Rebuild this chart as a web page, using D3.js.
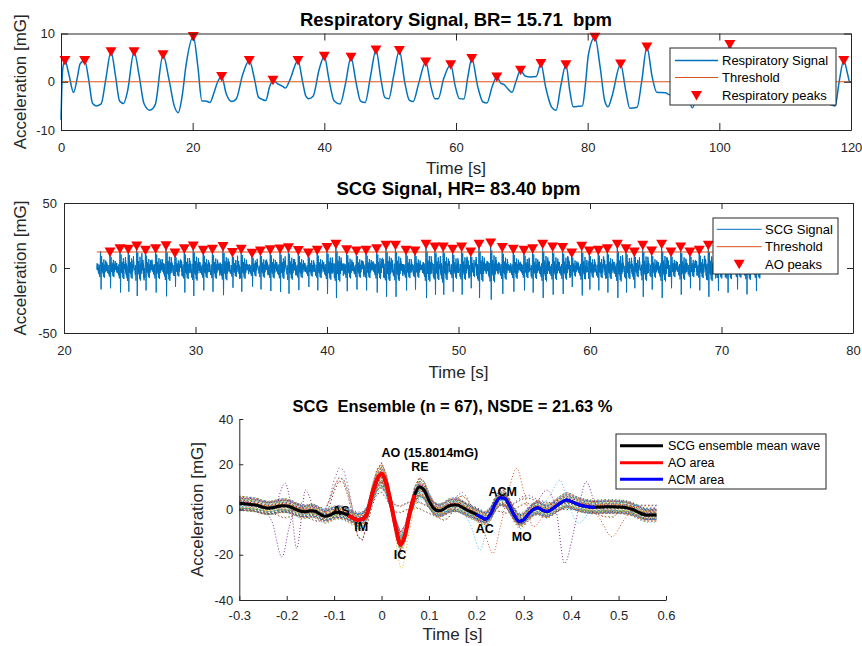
<!DOCTYPE html>
<html><head><meta charset="utf-8">
<script src="https://cdn.jsdelivr.net/npm/d3@7"></script>
<style>
body{margin:0;background:#fff;}
svg{display:block;}
</style></head><body>
<svg id="c" width="862" height="646"></svg>
<script>
// ---------------- DATA ----------------
// Respiratory signal knots (time s, acceleration mG)
const respT = [0,0.25,0.6,1.2,1.9,2.5,2.9,3.6,4.2,4.8,5.4,6.1,6.8,7.6,8.3,8.9,9.5,10.1,11.1,11.9,12.6,13.5,14.3,15.5,16.4,17.2,17.8,18.4,19.0,20.1,20.8,21.4,22.0,22.6,23.3,23.8,24.4,25.1,25.9,26.6,27.6,28.6,29.4,30.0,30.5,31.1,31.7,32.2,33.0,33.6,34.1,34.8,36.0,36.7,37.2,37.6,38.3,39.2,40.0,40.7,41.5,42.4,43.2,44.05,44.8,45.5,46.2,47.0,47.85,48.6,49.2,49.8,50.5,51.4,52.2,52.9,53.5,54.3,55.4,56.2,56.8,57.3,58.1,59.2,59.9,60.5,61.2,61.8,62.4,63.3,64.1,64.7,65.5,66.2,66.8,67.3,67.9,68.5,69.1,69.8,70.5,71.3,72.2,72.9,73.6,74.5,75.2,75.9,76.7,77.3,77.8,78.6,79.2,79.7,80.1,81.1,81.9,82.6,83.1,83.7,85.0,85.8,86.4,87.5,88.2,89.0,89.8,90.5,91.8,92.5,93.5,94.3,95.2,95.9,96.6,97.4,98.0,98.8,99.5,100.2,100.9,101.6,102.4,103.2,104.0,105.0,105.8,106.6,107.4,108.4,109.3,110.0,110.8,111.6,112.5,113.4,114.1,114.9,115.7,116.5,117.6,118.2,118.9,119.5,119.8,120];
const respV = [-7.9,2.5,4.4,1.5,-2.2,1.0,3.7,4.4,0.5,-4.5,-5.0,-4.6,0.5,6.2,1.0,-4.0,-4.5,-2.0,6.2,1.0,-4.5,-5.9,-4.8,5.6,0.5,-5.0,-6.4,-3.0,3.5,9.4,3.0,-4.0,-4.0,-4.3,-2.0,0.0,1.1,-2.5,-4.1,-3.6,1.5,4.4,0.5,-3.2,-3.6,-3.9,-1.0,0.3,-0.5,-0.9,-1.3,0.5,4.4,0.0,-3.0,-3.5,-3.0,2.5,5.3,0.5,-4.0,-4.6,-0.5,5.1,0.0,-4.0,-4.3,1.0,6.6,0.5,-3.3,-3.5,1.0,6.5,0.0,-3.8,-4.1,-0.5,4.1,-1.0,-3.5,-3.5,0.5,3.5,-1.0,-3.5,-3.6,1.0,4.8,-1.0,-4.2,-4.4,-1.0,1.0,-0.3,-0.6,-1.5,-2.2,0.0,2.4,1.2,1.0,1.1,3.8,-1.0,-5.2,-5.9,-1.0,3.5,-2.0,-5.2,-5.1,-5.0,0.0,5.5,9.2,3.0,-4.0,-5.2,-3.0,3.7,-2.0,-5.5,-5.3,0.0,7.2,1.0,-2.2,-2.3,-2.7,1.0,3.0,-2.5,-5.4,-3.0,0.5,3.0,-2.0,-2.6,-2.6,2.0,7.7,1.0,-4.0,-4.2,1.0,5.0,-1.0,-4.5,-4.0,2.0,4.5,-1.0,-4.2,-3.8,1.5,4.0,-1.0,-4.0,-4.5,-5.0,0.0,4.4,1.5,0.0,0.0];
const respThreshold = 0;
const respPeakT = [0.6,3.6,7.6,11.1,15.5,20.1,24.4,28.6,32.2,36.0,40.0,44.05,47.85,51.4,55.4,59.2,62.4,66.2,69.8,72.9,76.7,81.1,85.0,89.0,94.3,98.0,101.6,105.8,110.0,114.1,118.9];
const respPeakV = [4.4,4.4,6.2,6.2,5.6,9.4,1.1,4.4,0.3,4.4,5.3,5.1,6.6,6.5,4.1,3.5,4.8,1.0,2.4,3.8,3.5,9.2,3.7,7.2,3.0,3.0,7.7,5.0,4.5,4.0,4.4];

// SCG: AO peak times (s) and AO peak values (mG)
const aoT = [23.50,24.26,24.89,25.53,26.20,26.97,27.76,28.44,29.15,29.83,30.59,31.29,32.09,32.81,33.48,34.30,34.94,35.69,36.43,37.07,37.82,38.58,39.26,40.00,40.68,41.50,42.24,42.97,43.78,44.49,45.21,46.01,46.69,47.53,48.21,48.84,49.56,50.24,50.93,51.56,52.45,53.33,54.17,54.98,55.64,56.40,57.16,57.92,58.61,59.37,59.95,60.63,61.32,62.08,62.74,63.37,64.01,64.69,65.45,66.16,66.90,67.60,68.31,69.00,69.73,70.46,71.18,71.90,72.62];
const aoV = [12.3,14.9,14.4,17.0,13.6,14.9,17.2,11.5,14.9,17.0,13.6,14.4,16.5,12.0,14.4,11.3,13.0,14.0,14.6,15.6,13.4,11.5,13.6,15.7,18.2,14.1,13.1,13.6,14.9,17.5,17.5,13.6,13.1,18.2,16.2,16.2,14.4,16.2,12.3,18.2,19.2,15.7,14.4,13.6,14.9,18.2,16.2,15.7,11.5,16.7,13.1,13.6,14.9,18.2,14.9,12.3,17.5,13.1,18.2,12.3,16.2,12.3,13.6,17.5,14.0,15.0,13.0,16.0,14.0];
const scgLeadBeatT = [22.78];   // beat before first detected AO peak
const scgLeadBeatV = [13.0];
const scgStart = 22.5, scgEnd = 73.0;
const scgThreshold = 12.3;

// SCG ensemble mean wave (time relative to AO, s ; mG)
const ensT = [-0.30,-0.29,-0.28,-0.27,-0.26,-0.25,-0.24,-0.23,-0.22,-0.21,-0.20,-0.19,-0.18,-0.17,-0.16,-0.15,-0.14,-0.13,-0.12,-0.11,-0.10,-0.09,-0.08,-0.07,-0.06,-0.05,-0.04,-0.03,-0.02,-0.01,0.00,0.01,0.02,0.03,0.04,0.05,0.06,0.07,0.08,0.09,0.10,0.11,0.12,0.13,0.14,0.15,0.16,0.17,0.18,0.19,0.20,0.21,0.22,0.23,0.24,0.25,0.26,0.27,0.28,0.29,0.30,0.31,0.32,0.33,0.34,0.35,0.36,0.37,0.38,0.39,0.40,0.41,0.42,0.43,0.44,0.45,0.46,0.47,0.48,0.49,0.50,0.51,0.52,0.53,0.54,0.55,0.56,0.57,0.58];
const ensMean = [2.7,2.5,2.3,2.1,1.7,1.0,0.6,0.8,1.3,1.7,1.6,1.0,0.0,-0.8,-1.0,-0.6,-0.8,-2.0,-3.0,-2.6,-1.5,-1.2,-1.6,-2.6,-3.8,-4.6,-4.2,-1.5,6.5,13.0,15.8,11.5,2.5,-8.0,-15.5,-11.0,-1.0,6.5,10.0,8.5,4.0,0.5,-0.6,0.0,1.4,2.0,2.0,1.0,-0.2,-1.2,-2.2,-3.4,-4.3,-2.0,2.5,5.2,5.0,1.5,-2.5,-5.2,-4.5,-2.0,0.0,0.8,-0.4,-0.9,0.2,1.8,3.2,4.2,3.6,2.6,1.9,1.4,1.1,1.0,1.1,1.2,1.2,1.2,1.1,1.0,0.6,0.0,-1.0,-2.0,-2.5,-2.4,-2.4];
// typical raw (un-averaged) beat in the SCG recording, same time grid as ensT
const rawBeat = [3.0,1.0,4.5,2.0,-1.5,2.5,-2.0,1.0,4.0,0.5,3.5,-1.5,1.0,-4.0,0.5,-3.0,1.0,-5.0,-2.0,-6.0,1.0,3.0,-2.0,-5.0,-7.0,-8.5,-6.0,-1.5,7.0,13.5,15.8,10.5,0.0,-12.0,-20.0,-13.0,0.0,8.0,11.0,7.0,1.0,-4.0,2.0,-3.0,4.0,1.0,5.0,-1.0,2.0,-5.0,-1.0,-7.0,-8.0,-2.0,4.0,8.0,6.0,1.0,-5.0,-9.0,-6.0,-1.0,3.0,-1.0,2.0,-4.0,1.0,4.0,2.0,7.0,3.0,5.0,-1.0,3.0,-2.0,2.0,-1.5,3.0,-1.0,2.5,-1.0,2.0,-2.0,1.0,-3.0,-1.0,-4.0,-1.0,-2.4];
const aoArea = [-0.07, 0.07];
const acmArea = [0.20, 0.45];
const aoAmplitude = 15.8014;
// per-beat alignment shift (s) and baseline offset (mG) of the 67 ensemble beats
const ensShift = [0,0,0,0,0.085,0,0,0,0,0,0,0,0,0,0,0.085,0,0,0,0,0,0,0,0,0,0,0,0.085,0,0,0,0,0,0,0,0,0,0,0.085,0,0,0,0,0,0,0,0,0,0,0,0.085,0,0,0,0,0,0,0,0,0,0,0.085,0,0,0,0,0];
const ensOffset = [1.5,-2.1,0.4,2.8,-0.9,-3.0,1.1,0.2,-1.6,2.2,-0.5,3.1,-2.6,0.8,-1.2,1.9,-0.3,2.5,-2.9,0.6,1.4,-1.8,0.1,2.0,-2.3,-0.7,1.7,-1.1,2.9,-0.2,0.9,-2.5,1.3,-1.4,2.4,-0.6,0.3,-2.0,1.8,-0.8,2.6,-1.7,0.5,-2.7,1.0,-0.4,2.1,-1.3,0.7,-2.2,1.6,-0.1,2.3,-1.9,0.0,1.2,-2.4,2.7,-1.0,0.4,-1.5,1.9,-0.6,2.2,-2.8,0.9,-0.3];
// outlying individual beats (partial traces)
const outA_T = [-0.26,-0.245,-0.231,-0.21,-0.195,-0.18,-0.165]; const outA_V = [1,-1,-5.4,-21,-8,2,3];
const outB_T = [-0.22,-0.203,-0.19,-0.179,-0.168,-0.161,-0.145]; const outB_V = [3,11.6,0,-17.2,-2,8.6,1];
const outC_T = [0.20,0.22,0.235,0.25,0.27,0.285,0.30,0.32,0.34]; const outC_V = [-3,-12,-19.4,-8,10,18.2,8,-7.6,-3];
const outD_T = [0.31,0.33,0.348,0.368,0.386,0.405,0.418,0.432,0.45,0.47]; const outD_V = [0,4,8.6,0,-23.8,-10,3,12.3,3,0];
const outE_T = [0.33,0.355,0.376,0.395,0.415,0.44]; const outE_V = [0,6,13,2,-6,0];
const outF_T = [0.44,0.46,0.486,0.51,0.53]; const outF_V = [1,-4,-12,-5,1];
const outG_T = [0.17,0.19,0.208,0.225,0.245]; const outG_V = [0,-8,-17.9,-6,3];
const outH_T = [-0.02,0.0,0.02,0.042,0.06,0.075]; const outH_V = [8,19,2,-26,-8,4];

// tick values
const p1XTicks = [0,20,40,60,80,100,120], p1YTicks = [-10,0,10];
const p2XTicks = [20,30,40,50,60,70,80], p2YTicks = [-50,0,50];
const p3XTicks = [-0.3,-0.2,-0.1,0,0.1,0.2,0.3,0.4,0.5,0.6], p3YTicks = [-40,-20,0,20,40];

// ---------------- DRAW ----------------
const FONT = '"Liberation Sans", Arial, Helvetica, sans-serif';
const AX = '#262626';
const BLUE = '#0072BD', ORANGE = '#D95319', RED = '#FF0000';
const CYCLE = ['#0072BD','#D95319','#EDB120','#7E2F8E','#77AC30','#4DBEEE','#A2142F'];
const svg = d3.select('#c').attr('font-family', FONT);

function axes(x, y, xt, yt, box, tl, padX, padY) {
  const g = svg.append('g');
  const [xa, xb] = x.range(), [ya, yb] = y.range();
  const fmt = d => String(d);
  const parts = [];
  parts.push(g.append('g').attr('transform', `translate(0,${ya})`)
    .call(d3.axisBottom(x).tickValues(xt).tickFormat(fmt).tickSizeInner(-tl).tickSizeOuter(0).tickPadding(padX)));
  parts.push(g.append('g').attr('transform', `translate(${xa},0)`)
    .call(d3.axisLeft(y).tickValues(yt).tickFormat(fmt).tickSizeInner(-tl).tickSizeOuter(0).tickPadding(padY)));
  if (box) {
    parts.push(g.append('g').attr('transform', `translate(0,${yb})`)
      .call(d3.axisTop(x).tickValues(xt).tickFormat('').tickSizeInner(-tl).tickSizeOuter(0)));
    parts.push(g.append('g').attr('transform', `translate(${xb},0)`)
      .call(d3.axisRight(y).tickValues(yt).tickFormat('').tickSizeInner(-tl).tickSizeOuter(0)));
  }
  parts.forEach(p => p.attr('font-family', FONT).attr('font-size', 13));
  g.selectAll('.domain').attr('stroke', AX).attr('stroke-width', 1);
  g.selectAll('.tick line').attr('stroke', AX).attr('stroke-width', 1);
  g.selectAll('.tick text').attr('fill', AX);
  return g;
}
function title(txt, cx, by, fs) {
  svg.append('text').attr('x', cx).attr('y', by).attr('text-anchor', 'middle')
    .attr('font-size', fs).attr('font-weight', 'bold').attr('fill', '#000')
    .style('white-space', 'pre').attr('xml:space', 'preserve').text(txt);
}
function xlabel(txt, cx, by) {
  svg.append('text').attr('x', cx).attr('y', by).attr('text-anchor', 'middle')
    .attr('font-size', 17).attr('fill', AX).text(txt);
}
function ylabel(txt, bx, cy) {
  svg.append('text').attr('transform', `translate(${bx},${cy}) rotate(-90)`).attr('text-anchor', 'middle')
    .attr('font-size', 17).attr('fill', AX).text(txt);
}
const triPath = 'M-5.5,-4.5L5.5,-4.5L0,5Z';
function legend(rx, ry, rw, rh, lx0, lx1, tx, rows, fs, items) {
  const g = svg.append('g');
  g.append('rect').attr('x', rx).attr('y', ry).attr('width', rw).attr('height', rh)
    .attr('fill', '#fff').attr('stroke', AX).attr('stroke-width', 1);
  items.forEach((it, i) => {
    const cy = rows[i];
    if (it.type === 'line') {
      g.append('line').attr('x1', lx0).attr('x2', lx1).attr('y1', cy).attr('y2', cy)
        .attr('stroke', it.color).attr('stroke-width', it.w);
    } else {
      g.append('path').attr('d', triPath).attr('transform', `translate(${(lx0 + lx1) / 2},${cy})`).attr('fill', RED);
    }
    g.append('text').attr('x', tx).attr('y', cy).attr('dy', '0.35em').attr('font-size', fs)
      .attr('fill', '#000').text(it.label);
  });
}

// ---- Panel 1: respiratory ----
{
  const x = d3.scaleLinear().domain([0, 120]).range([61, 851]);
  const y = d3.scaleLinear().domain([-10, 10]).range([130, 33.5]);
  const pts = respT.map((t, i) => [t, respV[i]]);
  svg.append('path').datum(pts).attr('fill', 'none').attr('stroke', BLUE).attr('stroke-width', 1.5)
    .attr('d', d3.line().x(d => x(d[0])).y(d => y(d[1])).curve(d3.curveMonotoneX));
  svg.append('line').attr('x1', x(0)).attr('x2', x(120)).attr('y1', y(respThreshold)).attr('y2', y(respThreshold))
    .attr('stroke', ORANGE).attr('stroke-width', 1);
  svg.append('g').selectAll('path').data(respPeakT).join('path').attr('d', triPath)
    .attr('transform', (t, i) => `translate(${x(t)},${y(respPeakV[i])})`).attr('fill', RED);
  axes(x, y, p1XTicks, p1YTicks, true, 7, 12.5, 6);
  title('Respiratory Signal, BR= 15.71  bpm', 456, 26, 18.5);
  xlabel('Time [s]', 456, 174);
  ylabel('Acceleration [mG]', 25.5, 81.75);
  legend(670, 48, 166, 57, 675, 718, 722, [60.5, 77.5, 95.5], 13, [
    {type: 'line', color: BLUE, w: 1.5, label: 'Respiratory Signal'},
    {type: 'line', color: ORANGE, w: 1, label: 'Threshold'},
    {type: 'marker', label: 'Respiratory peaks'}]);
}

// ---- helpers: shapes on the ensT grid ----
function shapeAt(shape, tau) {
  if (tau < ensT[0] || tau > ensT[ensT.length - 1]) return 0;
  let i = d3.bisectRight(ensT, tau) - 1;
  if (i >= ensT.length - 1) return shape[ensT.length - 1];
  const f = (tau - ensT[i]) / (ensT[i + 1] - ensT[i]);
  return shape[i] + f * (shape[i + 1] - shape[i]);
}
const beatT = scgLeadBeatT.concat(aoT), beatV = scgLeadBeatV.concat(aoV);
function scgAt(t) {
  let s = 0;
  for (let b = 0; b < beatT.length; b++) {
    const tau = t - beatT[b];
    if (tau >= -0.3 && tau <= 0.58) s += beatV[b] / rawBeat[30] * shapeAt(rawBeat, tau);
  }
  return s;
}

// ---- Panel 2: SCG ----
{
  const x = d3.scaleLinear().domain([20, 80]).range([64, 853]);
  const y = d3.scaleLinear().domain([-50, 50]).range([333, 203]);
  const grid = d3.range(scgStart, scgEnd + 1e-9, 0.01);
  const pts = grid.map(t => [t, scgAt(t)]);
  svg.append('path').datum(pts).attr('fill', 'none').attr('stroke', BLUE).attr('stroke-width', 1)
    .attr('d', d3.line().x(d => x(d[0])).y(d => y(d[1])));
  svg.append('line').attr('x1', x(scgStart)).attr('x2', x(scgEnd)).attr('y1', y(scgThreshold)).attr('y2', y(scgThreshold))
    .attr('stroke', ORANGE).attr('stroke-width', 1);
  svg.append('g').selectAll('path').data(aoT).join('path').attr('d', triPath)
    .attr('transform', (t, i) => `translate(${x(t)},${y(aoV[i])})`).attr('fill', RED);
  axes(x, y, p2XTicks, p2YTicks, true, 6, 12.8, 7);
  title('SCG Signal, HR= 83.40 bpm', 458.5, 195, 18.5);
  xlabel('Time [s]', 458.5, 378);
  ylabel('Acceleration [mG]', 25.5, 268);
  legend(713, 218, 125, 56, 716.7, 761.7, 765, [229.3, 246.7, 264.3], 13, [
    {type: 'line', color: BLUE, w: 1, label: 'SCG Signal'},
    {type: 'line', color: ORANGE, w: 1, label: 'Threshold'},
    {type: 'marker', label: 'AO peaks'}]);
}

// ---- Panel 3: ensemble ----
{
  const x = d3.scaleLinear().domain([-0.3, 0.6]).range([239.3, 666]);
  const y = d3.scaleLinear().domain([-40, 40]).range([600, 419]);
  const line = d3.line().x(d => x(d[0])).y(d => y(d[1]));
  // each ensemble beat: mean wave scaled by that beat's AO peak, re-aligned and offset
  const traces = ensOffset.map((off, k) => {
    const sc = aoV[k + 1] / ensMean[30];
    return ensT.map(tau => [tau, sc * shapeAt(ensMean, tau + ensShift[k]) + off]);
  });
  svg.append('g').selectAll('path').data(traces).join('path')
    .attr('d', line).attr('fill', 'none')
    .attr('stroke', (d, k) => CYCLE[k % 7]).attr('stroke-width', 1)
    .attr('stroke-dasharray', '1,2.6').attr('stroke-dashoffset', (d, k) => (k % 4) * 0.9);
  const outs = [[outA_T, outA_V, CYCLE[3]], [outB_T, outB_V, CYCLE[3]], [outC_T, outC_V, CYCLE[1]],
                [outD_T, outD_V, CYCLE[3]], [outE_T, outE_V, CYCLE[5]], [outF_T, outF_V, CYCLE[1]],
                [outG_T, outG_V, CYCLE[5]], [outH_T, outH_V, CYCLE[2]]];
  const smooth = d3.line().x(d => x(d[0])).y(d => y(d[1])).curve(d3.curveMonotoneX);
  outs.forEach(([T, V, c]) => {
    svg.append('path').datum(T.map((t, i) => [t, V[i]])).attr('d', smooth).attr('fill', 'none')
      .attr('stroke', c).attr('stroke-width', 1).attr('stroke-dasharray', '1,2');
  });
  const mean = ensT.map((t, i) => [t, ensMean[i]]);
  svg.append('path').datum(mean).attr('d', smooth).attr('fill', 'none').attr('stroke', '#000').attr('stroke-width', 3);
  const ao = mean.filter(d => d[0] >= aoArea[0] - 1e-9 && d[0] <= aoArea[1] + 1e-9);
  svg.append('path').datum(ao).attr('d', smooth).attr('fill', 'none').attr('stroke', RED).attr('stroke-width', 4);
  const acm = mean.filter(d => d[0] >= acmArea[0] - 1e-9 && d[0] <= acmArea[1] + 1e-9);
  svg.append('path').datum(acm).attr('d', smooth).attr('fill', 'none').attr('stroke', '#0000FF').attr('stroke-width', 3);
  const ann = [
    {t: 'AS', x: -0.0855, y: -2.4, a: 'middle'},
    {t: 'IM', x: -0.043, y: -9.5, a: 'middle'},
    {t: 'AO (' + aoAmplitude.toFixed(4) + 'mG)', x: 0, y: 23.4, a: 'start'},
    {t: 'RE', x: 0.081, y: 16.9, a: 'middle'},
    {t: 'IC', x: 0.039, y: -21.9, a: 'middle'},
    {t: 'AC', x: 0.218, y: -10.4, a: 'middle'},
    {t: 'ACM', x: 0.2556, y: 6.0, a: 'middle'},
    {t: 'MO', x: 0.2957, y: -13.9, a: 'middle'}];
  svg.append('g').selectAll('text').data(ann).join('text')
    .attr('x', d => x(d.x)).attr('y', d => y(d.y)).attr('text-anchor', d => d.a)
    .attr('font-size', 12.5).attr('font-weight', 'bold').attr('fill', '#000').text(d => d.t);
  axes(x, y, p3XTicks, p3YTicks, false, 4, 11, 6);
  title('SCG  Ensemble (n = 67), NSDE = 21.63 %', 452.5, 411.7, 16.5);
  xlabel('Time [s]', 452.5, 640);
  ylabel('Acceleration [mG]', 203, 509.5);
  legend(616, 434, 210, 55, 620, 663, 668, [445.7, 462.7, 479.3], 12.5, [
    {type: 'line', color: '#000', w: 3, label: 'SCG ensemble mean wave'},
    {type: 'line', color: RED, w: 3, label: 'AO area'},
    {type: 'line', color: '#0000FF', w: 3, label: 'ACM area'}]);
}
</script>
</body></html>
